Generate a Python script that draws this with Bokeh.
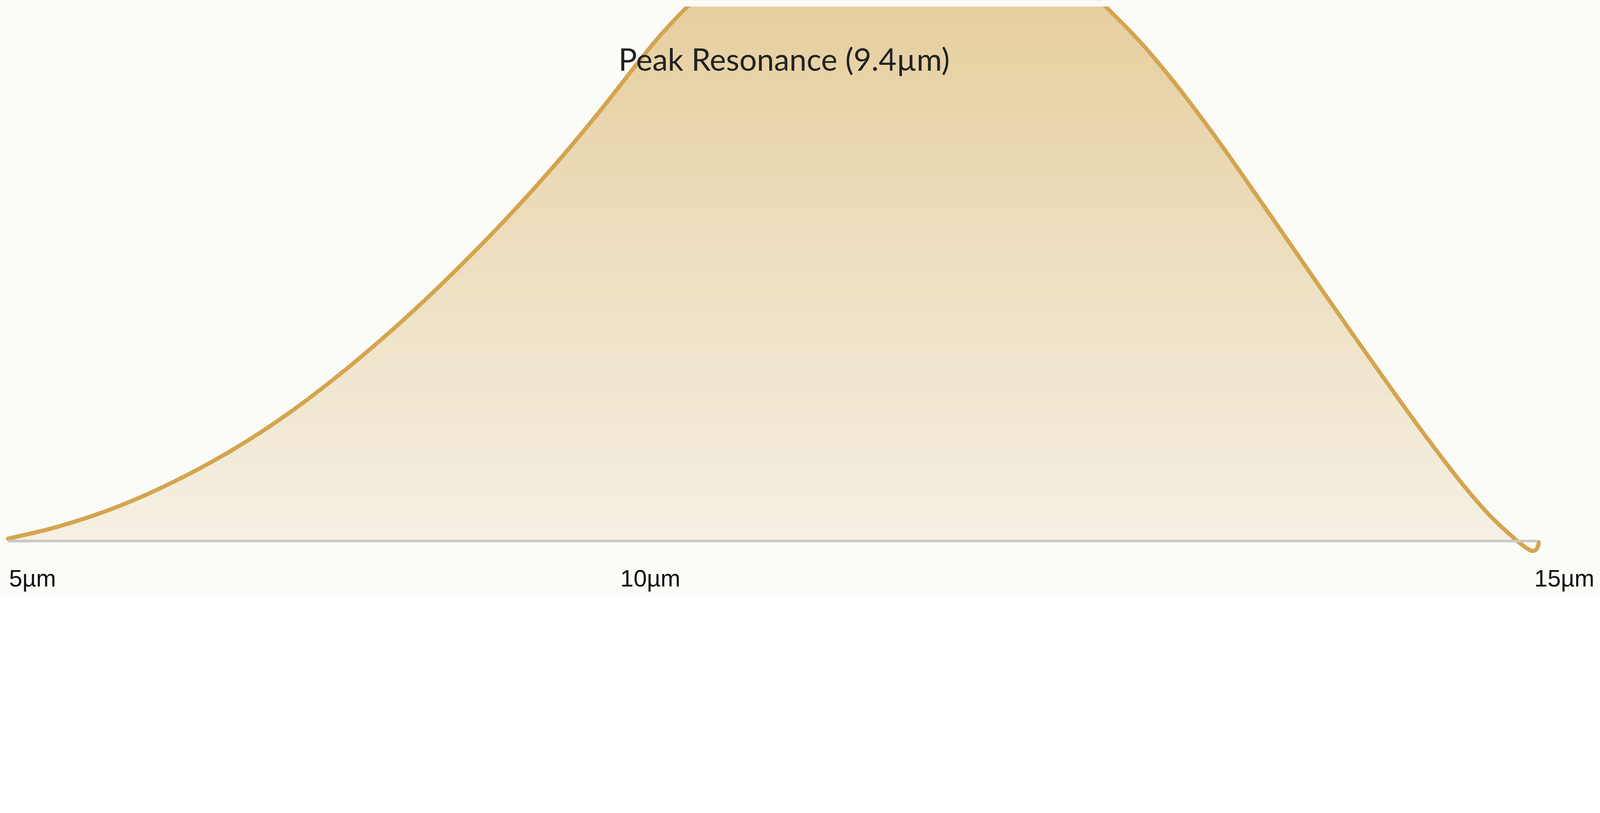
from bokeh.plotting import figure
from bokeh.models import Range1d, Label
from bokeh.embed import file_html
from bokeh.resources import INLINE
import numpy as np

# ---- data ----
wavelength_um = [5.000, 5.311, 5.693, 6.076, 6.458, 6.840, 7.222, 7.552, 7.814, 8.079,
                 8.341, 8.603, 8.867, 9.130, 9.261, 9.444, 9.651, 9.988, 10.456, 10.810,
                 11.206, 11.674, 11.974, 12.176, 12.388, 12.585, 12.789, 12.973, 13.173, 13.374,
                 13.548, 13.788, 14.029, 14.269, 14.511, 14.672, 14.751, 14.841, 14.897, 14.934,
                 14.957, 14.977, 14.991, 15.000, 15.004]
absorbance = [0.43, 2.57, 6.17, 10.99, 16.89, 24.02, 32.44, 40.54, 47.51, 55.01,
              62.90, 71.31, 80.38, 89.97, 94.53, 100.05, 105.25, 111.96, 117.32, 118.39,
              117.32, 111.42, 105.79, 99.95, 93.73, 87.13, 79.57, 72.33, 64.13, 55.82,
              48.58, 38.71, 28.95, 19.46, 10.46, 5.15, 2.90, 0.59, -0.75, -1.50,
              -1.82, -1.77, -1.45, -0.86, -0.21]
baseline_x = [5.0, 14.994]
baseline_y = [0.0, 0.0]
view_top = 100.02          # the chart area is cut off at this level
tick_labels = ["5µm", "10µm", "15µm"]
tick_label_x = [5.0075, 9.002, 14.975]
tick_label_y = -6.97
peak_label = "Peak Resonance (9.4µm)"
peak_label_x = 10.072
peak_label_y = 90.19

BG = "#fbfbf8"
GOLD = "#d4a54f"

p = figure(width=4106, height=1521,
           x_range=Range1d(4.9492, 15.431), y_range=Range1d(-9.93, 101.18),
           x_axis_type=None, y_axis_type=None,
           output_backend="svg", toolbar_location=None,
           min_border_left=0, min_border_right=0, min_border_top=0, min_border_bottom=0)
p.background_fill_color = BG
p.border_fill_color = BG
p.outline_line_color = None

# ---- vertical gradient under the curve (bands, then masked above the curve) ----
top_rgb = np.array([0xe6, 0xcf, 0x9f], float)
bot_rgb = np.array([0xf5, 0xf0, 0xe4], float)
edges = np.linspace(0, 125, 126)
lefts, rights, bottoms, tops, cols = [], [], [], [], []
for a, b in zip(edges[:-1], edges[1:]):
    yc = 0.5 * (a + b)
    f = min(max(1.0 - yc / 100.0, 0.0), 1.0)
    c = top_rgb + (bot_rgb - top_rgb) * f
    cols.append("#%02x%02x%02x" % tuple(int(round(v)) for v in c))
    lefts.append(wavelength_um[0]); rights.append(wavelength_um[-1])
    bottoms.append(a); tops.append(b + 0.06)
p.quad(left=lefts, right=rights, bottom=bottoms, top=tops,
       fill_color=cols, line_color=None)

# mask everything above the curve (extends past the band edges to hide seams)
mask_x = [4.80] + list(wavelength_um) + [15.60, 15.60, 4.80]
mask_y = [absorbance[0]] + list(absorbance) + [absorbance[-1], 140, 140]
p.patch(mask_x, mask_y, fill_color=BG, line_color=None)

# ---- smooth curve through the read points (centripetal Catmull-Rom as cubic Beziers) ----
P = np.column_stack([wavelength_um, absorbance]).astype(float)
scale = np.array([533.7, 18.65])
n = len(P)
x0s, y0s, x1s, y1s, c0x, c0y, c1x, c1y = [], [], [], [], [], [], [], []
for i in range(n - 1):
    P1, P2 = P[i], P[i + 1]
    P0 = P[i - 1] if i > 0 else 2 * P1 - P2
    P3 = P[i + 2] if i + 2 < n else 2 * P2 - P1
    d0 = np.linalg.norm((P1 - P0) * scale) ** 0.5
    d1 = np.linalg.norm((P2 - P1) * scale) ** 0.5
    d2 = np.linalg.norm((P3 - P2) * scale) ** 0.5
    m1 = d1 * (P1 - P0) / d0 - d1 * (P2 - P0) / (d0 + d1) + (P2 - P1)
    m2 = (P2 - P1) - d1 * (P3 - P1) / (d1 + d2) + d1 * (P3 - P2) / d2
    C1 = P1 + m1 / 3.0
    C2 = P2 - m2 / 3.0
    x0s.append(P1[0]); y0s.append(P1[1]); x1s.append(P2[0]); y1s.append(P2[1])
    c0x.append(C1[0]); c0y.append(C1[1]); c1x.append(C2[0]); c1y.append(C2[1])
p.bezier(x0=x0s, y0=y0s, x1=x1s, y1=y1s, cx0=c0x, cy0=c0y, cx1=c1x, cy1=c1y,
         line_color=GOLD, line_width=10.5, line_cap="round")

# ---- the chart area is cut off at the top ----
p.quad(left=[4.0], right=[16.5], bottom=[view_top], top=[130.0],
       fill_color=BG, line_color=None)

# ---- very faint warm glow in the top-right corner of the card ----
glow_r = list(np.linspace(1500, 150, 14))
p.scatter(x=[15.431] * len(glow_r), y=[101.18] * len(glow_r), size=[2 * r for r in glow_r],
          marker="circle", fill_color="#b89a6a", fill_alpha=0.0015, line_color=None)

# ---- baseline ----
p.line(baseline_x, baseline_y, line_color="#c9c9c9", line_width=7)

# ---- labels ----
for t, x in zip(tick_labels, tick_label_x):
    p.add_layout(Label(x=x, y=tick_label_y, text=t, text_align="left", text_baseline="alphabetic",
                       text_font="Liberation Sans", text_font_size="61px", text_color="#111111"))

p.add_layout(Label(x=peak_label_x, y=peak_label_y, text=peak_label, text_align="center",
                   text_baseline="alphabetic", text_font="Lato", text_font_size="79px",
                   text_color="#222222"))

open("out.html", "w").write(file_html(p, INLINE))
